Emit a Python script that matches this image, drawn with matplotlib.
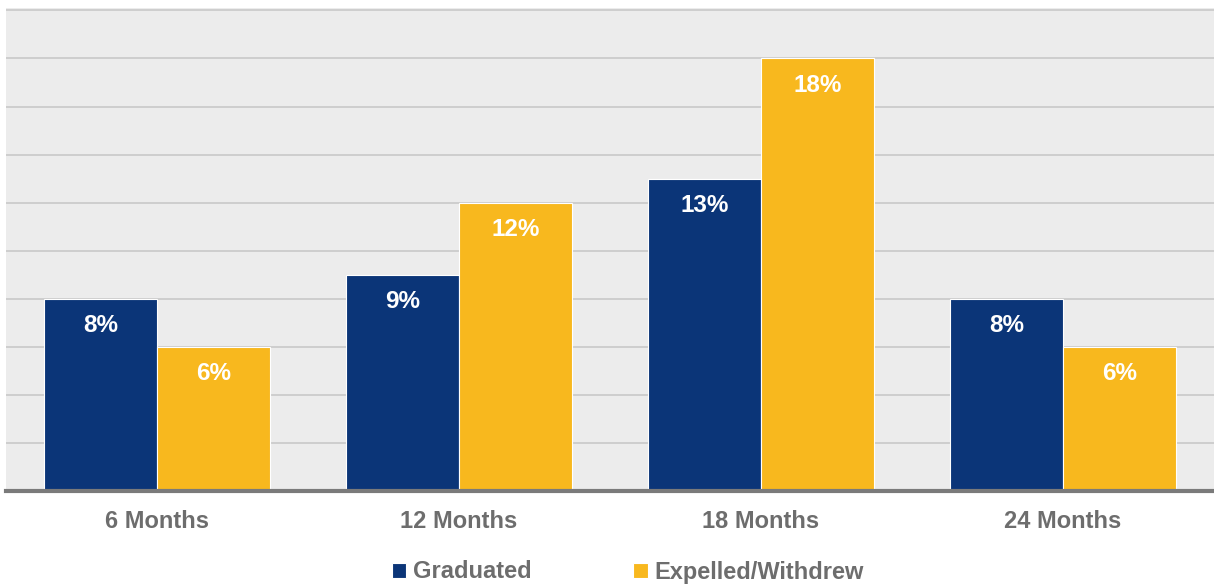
import matplotlib
matplotlib.use("Agg")
import matplotlib.pyplot as plt
import numpy as np

categories = ["6 Months", "12 Months", "18 Months", "24 Months"]
graduated = [8, 9, 13, 8]
expelled = [6, 12, 18, 6]
series_names = ["Graduated", "Expelled/Withdrew"]

plt.rcParams['font.family'] = ['Liberation Sans', 'DejaVu Sans']

BLUE = "#0b3578"
GOLD = "#f8b81e"
GRAY_TXT = "#6d6d6d"

fig = plt.figure(figsize=(12.14, 5.86), dpi=100)
ax = fig.add_axes([6/1214, 95/586, 1208/1214, 483/586])
ax.set_facecolor("#ececec")

x = np.arange(len(categories))
w = 0.375
b1 = ax.bar(x - w/2, graduated, w, color=BLUE, edgecolor="white", linewidth=0.8, label=series_names[0], zorder=3)
b2 = ax.bar(x + w/2, expelled, w, color=GOLD, edgecolor="white", linewidth=0.8, label=series_names[1], zorder=3)

for bars, vals in ((b1, graduated), (b2, expelled)):
    for r, v in zip(bars, vals):
        ax.annotate(f"{v}%", (r.get_x() + r.get_width()/2, v), xytext=(0, -27),
                    textcoords="offset pixels", ha="center", va="center",
                    color="white", fontsize=17.5, fontweight="bold", zorder=4)

ax.set_xlim(-0.5, 3.5)
ax.set_ylim(0, 20.1)
ax.set_yticks(np.arange(0, 21, 2))
ax.yaxis.grid(True, color="#c9c9c9", linewidth=1.2, zorder=0)
ax.tick_params(axis="y", left=False, labelleft=False)
ax.tick_params(axis="x", bottom=False, labelsize=17, labelcolor=GRAY_TXT, pad=10)
ax.set_xticks(x)
ax.set_xticklabels(categories, fontweight="bold")
for s in ("top", "right", "left"):
    ax.spines[s].set_visible(False)
ax.spines["bottom"].set_color("#7a7a7a")
ax.spines["bottom"].set_linewidth(3)
ax.spines["bottom"].set_zorder(5)

leg = fig.legend(handles=[b1, b2], labels=series_names, loc="center", bbox_to_anchor=(628/1214, 1 - 572/586),
                 ncol=2, frameon=False, handlelength=0.6, handleheight=0.6, handletextpad=0.3,
                 columnspacing=4.3, prop={"size": 17, "weight": "bold"})
for t in leg.get_texts():
    t.set_color(GRAY_TXT)

fig.savefig("out.png", dpi=100)
